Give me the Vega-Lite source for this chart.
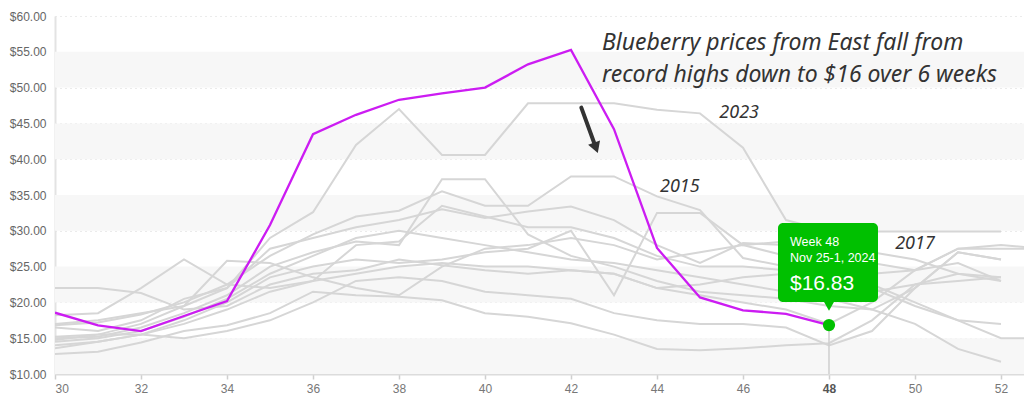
{
  "$schema": "https://vega.github.io/schema/vega-lite/v6.json",
  "width": 969,
  "height": 358,
  "autosize": {"type": "none"},
  "padding": {"left": 55, "top": 16, "right": 0, "bottom": 28},
  "background": "white",
  "config": {"view": {"stroke": null}, "font": "Liberation Sans"},
  "datasets": {
    "bands": [
      {"lo": 10, "hi": 15}, {"lo": 20, "hi": 25}, {"lo": 30, "hi": 35}, {"lo": 40, "hi": 45}, {"lo": 50, "hi": 55}
    ],
    "hist": [
      {"s":"2023","w":30,"p":14.75},{"s":"2023","w":31,"p":15.5},{"s":"2023","w":32,"p":17.0},{"s":"2023","w":33,"p":19.5},{"s":"2023","w":34,"p":22.0},{"s":"2023","w":35,"p":29.0},{"s":"2023","w":36,"p":32.6},{"s":"2023","w":37,"p":42.0},{"s":"2023","w":38,"p":47.0},{"s":"2023","w":39,"p":40.6},{"s":"2023","w":40,"p":40.6},{"s":"2023","w":41,"p":47.8},{"s":"2023","w":42,"p":47.8},{"s":"2023","w":43,"p":47.8},{"s":"2023","w":44,"p":46.9},{"s":"2023","w":45,"p":46.4},{"s":"2023","w":46,"p":41.6},{"s":"2023","w":47,"p":31.5},{"s":"2023","w":48,"p":29.9},{"s":"2023","w":49,"p":29.9},{"s":"2023","w":50,"p":29.9},{"s":"2023","w":51,"p":29.9},{"s":"2023","w":52,"p":29.9},
      {"s":"2015","w":30,"p":16.8},{"s":"2015","w":31,"p":17.2},{"s":"2015","w":32,"p":18.3},{"s":"2015","w":33,"p":20.0},{"s":"2015","w":34,"p":22.5},{"s":"2015","w":35,"p":26.5},{"s":"2015","w":36,"p":29.5},{"s":"2015","w":37,"p":32.0},{"s":"2015","w":38,"p":32.8},{"s":"2015","w":39,"p":35.5},{"s":"2015","w":40,"p":33.5},{"s":"2015","w":41,"p":33.5},{"s":"2015","w":42,"p":37.6},{"s":"2015","w":43,"p":37.6},{"s":"2015","w":44,"p":34.8},{"s":"2015","w":45,"p":32.9},{"s":"2015","w":46,"p":26.2},{"s":"2015","w":47,"p":25.0},{"s":"2015","w":48,"p":24.0},{"s":"2015","w":49,"p":22.5},{"s":"2015","w":50,"p":20.0},{"s":"2015","w":51,"p":17.5},{"s":"2015","w":52,"p":15.0},{"s":"2015","w":53,"p":15.0},
      {"s":"2016","w":30,"p":15.0},{"s":"2016","w":31,"p":15.2},{"s":"2016","w":32,"p":16.5},{"s":"2016","w":33,"p":18.5},{"s":"2016","w":34,"p":21.0},{"s":"2016","w":35,"p":25.0},{"s":"2016","w":36,"p":27.0},{"s":"2016","w":37,"p":28.5},{"s":"2016","w":38,"p":28.0},{"s":"2016","w":39,"p":37.2},{"s":"2016","w":40,"p":37.2},{"s":"2016","w":41,"p":29.5},{"s":"2016","w":42,"p":26.5},{"s":"2016","w":43,"p":25.0},{"s":"2016","w":44,"p":23.0},{"s":"2016","w":45,"p":21.5},{"s":"2016","w":46,"p":21.0},{"s":"2016","w":47,"p":20.5},{"s":"2016","w":48,"p":19.5},{"s":"2016","w":49,"p":19.0},{"s":"2016","w":50,"p":22.0},{"s":"2016","w":51,"p":27.0},{"s":"2016","w":52,"p":26.0},
      {"s":"2018","w":30,"p":13.6},{"s":"2018","w":31,"p":14.5},{"s":"2018","w":32,"p":15.5},{"s":"2018","w":33,"p":17.5},{"s":"2018","w":34,"p":20.0},{"s":"2018","w":35,"p":23.5},{"s":"2018","w":36,"p":25.0},{"s":"2018","w":37,"p":26.0},{"s":"2018","w":38,"p":25.5},{"s":"2018","w":39,"p":26.0},{"s":"2018","w":40,"p":27.0},{"s":"2018","w":41,"p":27.5},{"s":"2018","w":42,"p":30.0},{"s":"2018","w":43,"p":21.0},{"s":"2018","w":44,"p":32.5},{"s":"2018","w":45,"p":32.5},{"s":"2018","w":46,"p":28.0},{"s":"2018","w":47,"p":28.5},{"s":"2018","w":48,"p":27.0},{"s":"2018","w":49,"p":25.5},{"s":"2018","w":50,"p":24.5},{"s":"2018","w":51,"p":25.5},{"s":"2018","w":52,"p":23.0},
      {"s":"2019","w":30,"p":16.5},{"s":"2019","w":31,"p":16.0},{"s":"2019","w":32,"p":17.5},{"s":"2019","w":33,"p":20.5},{"s":"2019","w":34,"p":22.0},{"s":"2019","w":35,"p":27.5},{"s":"2019","w":36,"p":29.0},{"s":"2019","w":37,"p":30.5},{"s":"2019","w":38,"p":31.5},{"s":"2019","w":39,"p":33.0},{"s":"2019","w":40,"p":31.8},{"s":"2019","w":41,"p":32.7},{"s":"2019","w":42,"p":33.4},{"s":"2019","w":43,"p":31.5},{"s":"2019","w":44,"p":28.0},{"s":"2019","w":45,"p":25.5},{"s":"2019","w":46,"p":28.3},{"s":"2019","w":47,"p":28.0},{"s":"2019","w":48,"p":27.5},{"s":"2019","w":49,"p":27.0},{"s":"2019","w":50,"p":26.0},{"s":"2019","w":51,"p":24.0},{"s":"2019","w":52,"p":23.5},
      {"s":"2020","w":30,"p":22.0},{"s":"2020","w":31,"p":22.0},{"s":"2020","w":32,"p":21.3},{"s":"2020","w":33,"p":19.0},{"s":"2020","w":34,"p":19.5},{"s":"2020","w":35,"p":22.5},{"s":"2020","w":36,"p":24.0},{"s":"2020","w":37,"p":24.5},{"s":"2020","w":38,"p":26.0},{"s":"2020","w":39,"p":25.2},{"s":"2020","w":40,"p":24.5},{"s":"2020","w":41,"p":24.0},{"s":"2020","w":42,"p":24.5},{"s":"2020","w":43,"p":24.0},{"s":"2020","w":44,"p":22.0},{"s":"2020","w":45,"p":22.5},{"s":"2020","w":46,"p":23.5},{"s":"2020","w":47,"p":24.0},{"s":"2020","w":48,"p":22.5},{"s":"2020","w":49,"p":21.5},{"s":"2020","w":50,"p":22.5},{"s":"2020","w":51,"p":24.0},{"s":"2020","w":52,"p":23.0},
      {"s":"2021","w":30,"p":18.2},{"s":"2021","w":31,"p":18.5},{"s":"2021","w":32,"p":22.0},{"s":"2021","w":33,"p":26.0},{"s":"2021","w":34,"p":22.5},{"s":"2021","w":35,"p":22.0},{"s":"2021","w":36,"p":23.0},{"s":"2021","w":37,"p":28.0},{"s":"2021","w":38,"p":28.5},{"s":"2021","w":39,"p":33.5},{"s":"2021","w":40,"p":32.0},{"s":"2021","w":41,"p":30.5},{"s":"2021","w":42,"p":30.5},{"s":"2021","w":43,"p":29.0},{"s":"2021","w":44,"p":26.5},{"s":"2021","w":45,"p":25.0},{"s":"2021","w":46,"p":25.0},{"s":"2021","w":47,"p":24.5},{"s":"2021","w":48,"p":23.0},{"s":"2021","w":49,"p":22.0},{"s":"2021","w":50,"p":19.5},{"s":"2021","w":51,"p":17.5},{"s":"2021","w":52,"p":17.0},
      {"s":"2022","w":30,"p":17.0},{"s":"2022","w":31,"p":17.5},{"s":"2022","w":32,"p":18.5},{"s":"2022","w":33,"p":19.5},{"s":"2022","w":34,"p":25.8},{"s":"2022","w":35,"p":25.5},{"s":"2022","w":36,"p":23.5},{"s":"2022","w":37,"p":22.0},{"s":"2022","w":38,"p":21.0},{"s":"2022","w":39,"p":25.0},{"s":"2022","w":40,"p":27.5},{"s":"2022","w":41,"p":28.0},{"s":"2022","w":42,"p":29.0},{"s":"2022","w":43,"p":28.0},{"s":"2022","w":44,"p":26.0},{"s":"2022","w":45,"p":27.0},{"s":"2022","w":46,"p":28.0},{"s":"2022","w":47,"p":26.5},{"s":"2022","w":48,"p":25.5},{"s":"2022","w":49,"p":24.0},{"s":"2022","w":50,"p":24.5},{"s":"2022","w":51,"p":27.5},{"s":"2022","w":52,"p":27.5},{"s":"2022","w":53,"p":27.5},
      {"s":"2013","w":30,"p":12.8},{"s":"2013","w":31,"p":13.1},{"s":"2013","w":32,"p":14.4},{"s":"2013","w":33,"p":16.0},{"s":"2013","w":34,"p":16.8},{"s":"2013","w":35,"p":18.5},{"s":"2013","w":36,"p":21.5},{"s":"2013","w":37,"p":21.0},{"s":"2013","w":38,"p":20.8},{"s":"2013","w":39,"p":20.3},{"s":"2013","w":40,"p":18.5},{"s":"2013","w":41,"p":18.0},{"s":"2013","w":42,"p":17.1},{"s":"2013","w":43,"p":15.5},{"s":"2013","w":44,"p":13.5},{"s":"2013","w":45,"p":13.3},{"s":"2013","w":46,"p":13.6},{"s":"2013","w":47,"p":14.0},{"s":"2013","w":48,"p":14.3},{"s":"2013","w":49,"p":17.5},{"s":"2013","w":50,"p":22.5},{"s":"2013","w":51,"p":23.0},{"s":"2013","w":52,"p":23.5},
      {"s":"2014","w":30,"p":15.2},{"s":"2014","w":31,"p":15.5},{"s":"2014","w":32,"p":15.5},{"s":"2014","w":33,"p":15.0},{"s":"2014","w":34,"p":16.0},{"s":"2014","w":35,"p":17.5},{"s":"2014","w":36,"p":20.0},{"s":"2014","w":37,"p":23.0},{"s":"2014","w":38,"p":23.5},{"s":"2014","w":39,"p":23.0},{"s":"2014","w":40,"p":21.5},{"s":"2014","w":41,"p":21.0},{"s":"2014","w":42,"p":20.5},{"s":"2014","w":43,"p":18.5},{"s":"2014","w":44,"p":17.5},{"s":"2014","w":45,"p":17.0},{"s":"2014","w":46,"p":17.0},{"s":"2014","w":47,"p":16.5},{"s":"2014","w":48,"p":14.0},{"s":"2014","w":49,"p":16.0},{"s":"2014","w":50,"p":22.0},{"s":"2014","w":51,"p":27.0},{"s":"2014","w":52,"p":26.0},
      {"s":"2017","w":30,"p":14.0},{"s":"2017","w":31,"p":14.5},{"s":"2017","w":32,"p":15.5},{"s":"2017","w":33,"p":17.0},{"s":"2017","w":34,"p":19.0},{"s":"2017","w":35,"p":21.5},{"s":"2017","w":36,"p":23.0},{"s":"2017","w":37,"p":24.0},{"s":"2017","w":38,"p":25.0},{"s":"2017","w":39,"p":25.5},{"s":"2017","w":40,"p":25.0},{"s":"2017","w":41,"p":25.0},{"s":"2017","w":42,"p":24.5},{"s":"2017","w":43,"p":24.0},{"s":"2017","w":44,"p":22.0},{"s":"2017","w":45,"p":21.0},{"s":"2017","w":46,"p":20.0},{"s":"2017","w":47,"p":19.0},{"s":"2017","w":48,"p":17.0},{"s":"2017","w":49,"p":20.0},{"s":"2017","w":50,"p":24.5},{"s":"2017","w":51,"p":27.5},{"s":"2017","w":52,"p":28.0},{"s":"2017","w":53,"p":27.5},
      {"s":"2012","w":30,"p":14.5},{"s":"2012","w":31,"p":15.0},{"s":"2012","w":32,"p":16.0},{"s":"2012","w":33,"p":18.0},{"s":"2012","w":34,"p":20.5},{"s":"2012","w":35,"p":24.0},{"s":"2012","w":36,"p":26.5},{"s":"2012","w":37,"p":29.0},{"s":"2012","w":38,"p":30.0},{"s":"2012","w":39,"p":29.0},{"s":"2012","w":40,"p":28.0},{"s":"2012","w":41,"p":27.0},{"s":"2012","w":42,"p":26.0},{"s":"2012","w":43,"p":25.5},{"s":"2012","w":44,"p":24.5},{"s":"2012","w":45,"p":23.5},{"s":"2012","w":46,"p":22.5},{"s":"2012","w":47,"p":21.5},{"s":"2012","w":48,"p":20.5},{"s":"2012","w":49,"p":19.0},{"s":"2012","w":50,"p":17.0},{"s":"2012","w":51,"p":13.5},{"s":"2012","w":52,"p":11.7}
    ],
    "cur": [
      {"w":30,"p":18.56},{"w":31,"p":16.8},{"w":32,"p":16.0},{"w":33,"p":18.1},{"w":34,"p":20.2},{"w":35,"p":30.8},{"w":36,"p":43.5},{"w":37,"p":46.2},{"w":38,"p":48.3},{"w":39,"p":49.2},{"w":40,"p":50.0},{"w":41,"p":53.25},{"w":42,"p":55.25},{"w":43,"p":44.2},{"w":44,"p":27.6},{"w":45,"p":20.7},{"w":46,"p":18.9},{"w":47,"p":18.4},{"w":48,"p":16.83}
    ],
    "last": [
      {"w":48,"p":16.83,"t1":"Week 48","t2":"Nov 25-1, 2024","t3":"$16.83"}
    ],
    "note": [
      {"w":42.72,"p":55.25,"t":"Blueberry prices from East fall from"},
      {"w":42.72,"p":50.8,"t":"record highs down to $16 over 6 weeks"}
    ],
    "years": [
      {"w":45.91,"p":46.45,"t":"2023"},
      {"w":44.53,"p":36.1,"t":"2015"},
      {"w":50.0,"p":28.2,"t":"2017"}
    ],
    "arrow": [
      {"w":42.24,"p":47.2},
      {"w":42.58,"p":41.6}
    ]
  },
  "encoding": {
    "x": {"field": "w", "type": "quantitative", "title": null, "scale": {"domain": [30, 52.535], "nice": false, "zero": false},
      "axis": {"values": [30,32,34,36,38,40,42,44,46,48,50,52], "title": null, "grid": false, "domainColor": "#dcdcdc", "domainWidth": 2, "tickColor": "#cfcfcf", "tickSize": 5, "tickWidth": 1.5, "labelColor": {"condition": {"test": "datum.value === 48", "value": "#555"}, "value": "#777"}, "labelFontWeight": {"condition": {"test": "datum.value === 48", "value": "bold"}, "value": "normal"}, "labelFontSize": 12, "labelPadding": 4, "labelFont": "Liberation Sans"}},
    "y": {"field": "p", "type": "quantitative", "title": null, "scale": {"domain": [10, 60], "nice": false, "zero": false},
      "axis": {"values": [10,15,20,25,30,35,40,45,50,55,60], "format": "$.2f", "title": null, "grid": true, "gridColor": "#d6d6d6", "gridDash": [1, 4], "gridWidth": 1, "domainColor": "#e3e3e3", "domainWidth": 2, "ticks": false, "labelColor": "#666", "labelFontSize": 12, "labelPadding": 9, "labelFont": "Liberation Sans"}}
  },
  "layer": [
    {
      "data": {"name": "bands"},
      "mark": {"type": "rect", "color": "#f7f7f7"},
      "encoding": {
        "x": null,
        "y": {"field": "lo", "type": "quantitative", "title": null},
        "y2": {"field": "hi"}
      }
    },
    {
      "data": {"name": "hist"},
      "mark": {"type": "line", "color": "#d6d6d6", "strokeWidth": 2, "clip": true},
      "encoding": {
        "detail": {"field": "s"}
      }
    },
    {
      "data": {"name": "last"},
      "mark": {"type": "rule", "color": "#cfcfcf", "strokeWidth": 1.5},
      "encoding": {
        "y2": {"datum": 10}
      }
    },
    {
      "data": {"name": "cur"},
      "mark": {"type": "line", "color": "#cc1cf2", "strokeWidth": 2.3, "clip": true}
    },
    {
      "data": {"name": "last"},
      "mark": {"type": "point", "shape": "circle", "filled": true, "opacity": 1, "size": 150, "color": "#00c000"}
    },
    {
      "data": {"name": "last"},
      "mark": {"type": "rect", "color": "#00c000", "cornerRadius": 5, "xOffset": -51, "x2Offset": 49, "yOffset": -102, "y2Offset": -23},
      "encoding": {
        "x2": {"field": "w"},
        "y2": {"field": "p"}
      }
    },
    {
      "data": {"name": "last"},
      "mark": {"type": "point", "shape": "triangle-down", "filled": true, "opacity": 1, "size": 110, "color": "#00c000", "yOffset": -19}
    },
    {
      "data": {"name": "last"},
      "mark": {"type": "text", "color": "white", "align": "left", "baseline": "alphabetic", "fontSize": 12.5, "dx": -39, "dy": -79, "font": "Liberation Sans"},
      "encoding": {"text": {"field": "t1"}}
    },
    {
      "data": {"name": "last"},
      "mark": {"type": "text", "color": "white", "align": "left", "baseline": "alphabetic", "fontSize": 12.5, "dx": -39, "dy": -63, "font": "Liberation Sans"},
      "encoding": {"text": {"field": "t2"}}
    },
    {
      "data": {"name": "last"},
      "mark": {"type": "text", "color": "white", "align": "left", "baseline": "alphabetic", "fontSize": 21, "dx": -39, "dy": -35, "font": "Liberation Sans"},
      "encoding": {"text": {"field": "t3"}}
    },
    {
      "data": {"name": "note"},
      "mark": {"type": "text", "color": "#333", "align": "left", "baseline": "alphabetic", "fontSize": 23, "fontStyle": "italic", "font": "Noto Sans"},
      "encoding": {"text": {"field": "t"}}
    },
    {
      "data": {"name": "years"},
      "mark": {"type": "text", "color": "#333", "align": "center", "baseline": "middle", "fontSize": 18, "fontStyle": "italic", "font": "Noto Sans"},
      "encoding": {"text": {"field": "t"}}
    },
    {
      "data": {"name": "arrow"},
      "mark": {"type": "line", "color": "#333", "strokeWidth": 4, "strokeCap": "round"}
    },
    {
      "data": {"name": "arrow"},
      "transform": [{"filter": "datum.p < 45"}],
      "mark": {"type": "point", "shape": "triangle-down", "filled": true, "opacity": 1, "size": 160, "color": "#333", "angle": -20}
    }
  ]
}
